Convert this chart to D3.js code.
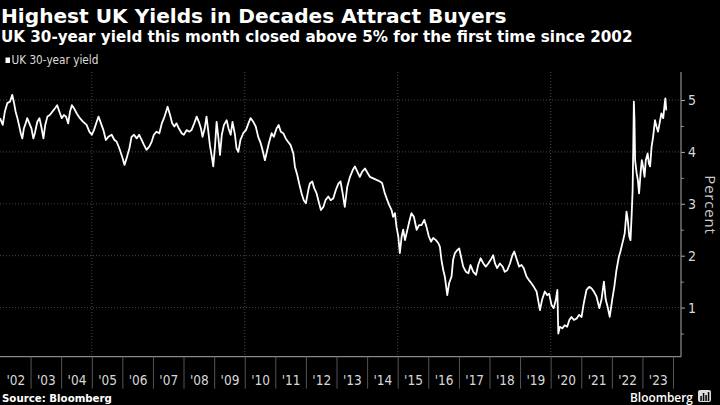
<!DOCTYPE html>
<html><head><meta charset="utf-8">
<script src="https://cdn.jsdelivr.net/npm/d3@7"></script>
<style>
html,body{margin:0;padding:0;background:#000;}
svg{display:block;}
</style></head>
<body>
<svg id="c" width="720" height="405"></svg>
<script>
const titleText = "Highest UK Yields in Decades Attract Buyers";
const subtitleText = "UK 30-year yield this month closed above 5% for the first time since 2002";
const seriesName = "UK 30-year yield";
const yAxisTitle = "Percent";
const sourceText = "Source: Bloomberg";
const brandText = "Bloomberg";
const yTicks = [1, 2, 3, 4, 5];
const yMinorTicks = [0.5, 1.5, 2.5, 3.5, 4.5];
const years = d3.range(2002, 2024);
const yearLabels = ["'02","'03","'04","'05","'06","'07","'08","'09","'10","'11","'12","'13","'14","'15","'16","'17","'18","'19","'20","'21","'22","'23"];
const gridYears = [2005, 2010, 2015, 2020];

// decimal-year dates and yields (%)
const t = [
2002.00,2002.09,2002.16,2002.24,2002.33,2002.40,2002.46,2002.51,2002.57,2002.62,2002.68,2002.73,2002.78,2002.84,2002.89,2002.96,
2003.03,2003.09,2003.14,2003.22,2003.29,2003.35,2003.42,2003.48,2003.55,2003.63,2003.72,2003.80,2003.87,2003.94,
2004.02,2004.09,2004.16,2004.23,2004.29,2004.35,2004.42,2004.51,2004.61,2004.72,2004.83,2004.92,
2005.00,2005.07,2005.16,2005.22,2005.30,2005.38,2005.46,2005.54,2005.65,2005.74,2005.81,2005.90,2005.99,
2006.07,2006.14,2006.23,2006.30,2006.38,2006.47,2006.55,2006.63,2006.71,2006.79,2006.88,2006.96,
2007.03,2007.12,2007.21,2007.29,2007.38,2007.48,2007.56,2007.63,2007.70,2007.77,2007.85,2007.94,
2008.01,2008.10,2008.19,2008.26,2008.35,2008.43,2008.50,2008.57,2008.62,2008.69,2008.75,2008.81,2008.86,2008.93,2008.97,
2009.03,2009.08,2009.14,2009.19,2009.25,2009.32,2009.41,2009.47,2009.54,2009.60,2009.68,2009.73,2009.79,2009.86,2009.95,
2010.04,2010.12,2010.19,2010.28,2010.36,2010.44,2010.52,2010.58,2010.66,2010.71,2010.79,2010.88,2010.95,
2011.04,2011.11,2011.18,2011.26,2011.34,2011.41,2011.50,2011.59,2011.64,2011.72,2011.78,2011.86,2011.93,
2012.00,2012.08,2012.13,2012.21,2012.27,2012.35,2012.43,2012.49,2012.57,2012.64,2012.73,2012.81,2012.89,2012.98,
2013.06,2013.13,2013.20,2013.27,2013.35,2013.44,2013.53,2013.60,2013.68,2013.76,2013.84,2013.93,
2014.02,2014.09,2014.20,2014.31,2014.42,2014.49,2014.58,2014.66,2014.72,2014.80,2014.85,2014.91,2014.96,
2015.02,2015.07,2015.13,2015.18,2015.24,2015.29,2015.38,2015.45,2015.53,2015.62,2015.70,2015.78,2015.87,2015.94,
2016.02,2016.09,2016.16,2016.25,2016.33,2016.38,2016.43,2016.49,2016.54,2016.62,2016.68,2016.76,2016.81,2016.87,2016.95,
2017.01,2017.07,2017.14,2017.23,2017.31,2017.38,2017.47,2017.56,2017.63,2017.71,2017.80,2017.88,2017.96,
2018.04,2018.12,2018.18,2018.25,2018.34,2018.43,2018.50,2018.58,2018.67,2018.75,2018.81,2018.88,2018.97,
2019.05,2019.12,2019.21,2019.29,2019.37,2019.45,2019.54,2019.65,2019.72,2019.81,2019.89,2019.95,
2020.03,2020.10,2020.17,2020.22,2020.25,2020.30,2020.38,2020.46,2020.54,2020.61,2020.68,2020.76,2020.85,2020.93,
2021.01,2021.08,2021.17,2021.26,2021.34,2021.41,2021.50,2021.59,2021.66,2021.74,2021.80,2021.86,2021.93,
2022.01,2022.08,2022.15,2022.23,2022.28,2022.37,2022.42,2022.48,2022.52,2022.57,2022.61,2022.65,2022.68,2022.70,2022.72,2022.74,2022.76,2022.81,2022.85,2022.89,2022.94,2022.98,
2023.02,2023.07,2023.11,2023.17,2023.21,2023.25,2023.30,2023.35,2023.41,2023.46,2023.51,2023.57,2023.62,2023.68,2023.73,2023.75,2023.78
];
const v = [
4.65,4.52,4.78,4.94,4.97,5.10,4.94,4.78,4.65,4.52,4.36,4.26,4.45,4.55,4.65,4.55,
4.45,4.26,4.36,4.58,4.65,4.49,4.26,4.52,4.68,4.71,4.78,4.84,4.90,4.78,
4.65,4.71,4.68,4.55,4.78,4.90,4.84,4.74,4.65,4.58,4.52,4.39,
4.33,4.42,4.58,4.68,4.55,4.42,4.23,4.29,4.33,4.23,4.20,4.07,3.91,
3.75,3.88,4.07,4.29,4.33,4.26,4.33,4.23,4.13,4.04,4.10,4.20,
4.33,4.39,4.36,4.55,4.68,4.87,4.71,4.55,4.49,4.55,4.45,4.36,
4.33,4.42,4.39,4.42,4.55,4.68,4.58,4.45,4.29,4.45,4.68,4.39,4.13,3.88,3.72,
4.13,4.58,4.26,3.94,4.33,4.52,4.61,4.45,4.33,4.58,4.33,4.07,4.00,4.23,4.36,
4.42,4.55,4.65,4.58,4.49,4.29,4.17,4.04,3.84,3.97,4.17,4.36,4.29,
4.45,4.52,4.39,4.36,4.26,4.20,4.13,3.97,3.72,3.55,3.39,3.20,3.07,
3.01,3.27,3.39,3.43,3.30,3.20,3.01,2.88,2.94,3.07,3.14,3.07,3.10,3.27,
3.39,3.43,3.20,2.94,3.33,3.52,3.65,3.72,3.62,3.52,3.62,3.68,
3.59,3.52,3.49,3.46,3.43,3.40,3.20,3.07,2.98,2.88,2.75,2.82,2.56,
2.37,2.05,2.37,2.50,2.30,2.43,2.66,2.82,2.75,2.50,2.59,2.59,2.69,2.56,
2.37,2.27,2.34,2.30,2.24,2.17,1.92,1.72,1.60,1.24,1.47,1.60,1.92,2.05,2.11,
2.14,1.98,1.79,1.69,1.66,1.82,1.69,1.63,1.82,1.95,1.85,1.79,1.85,
1.92,2.01,1.85,1.76,1.85,1.79,1.69,1.72,1.85,2.01,2.08,1.95,1.79,
1.82,1.76,1.60,1.53,1.47,1.40,1.31,0.95,1.15,1.31,1.24,1.27,
1.05,0.99,1.15,1.34,0.50,0.63,0.60,0.66,0.63,0.76,0.82,0.76,0.79,0.86,
0.82,1.08,1.34,1.40,1.37,1.31,1.21,0.99,1.15,1.50,1.15,1.02,0.82,
1.15,1.40,1.72,1.98,2.08,2.30,2.43,2.85,2.69,2.37,2.30,2.82,3.27,4.10,4.97,4.61,3.84,3.59,3.46,3.20,3.59,3.84,
3.72,3.52,3.84,3.97,3.78,3.72,4.10,4.29,4.61,4.49,4.39,4.58,4.74,4.65,4.94,5.03,4.80
];

const W = 720, H = 405;
const axisX = 681, plotTop = 72, plotBottom = 356.7;
const boldFont = "'DejaVu Sans', 'Noto Sans', sans-serif";
const font = "'Open Sans', 'Noto Sans', sans-serif";
const narrow = "'Liberation Sans Narrow', 'DejaVu Sans Condensed', sans-serif";

function toDate(d) {
  const yr = Math.floor(d), frac = d - yr;
  const a = Date.UTC(yr, 0, 1), b = Date.UTC(yr + 1, 0, 1);
  return new Date(a + frac * (b - a));
}
function fitWidth(sel, target) {
  const s = +sel.attr("font-size");
  const w = sel.node().getComputedTextLength();
  if (w > 0) sel.attr("font-size", s * target / w);
  return sel;
}
const data = t.map((d, i) => ({ date: toDate(d), value: v[i] }));

const svg = d3.select("#c");
svg.append("rect").attr("width", W).attr("height", H).attr("fill", "#000");

const x = d3.scaleUtc().domain([toDate(2002), toDate(2024)]).range([0, 673]);
const y = d3.scaleLinear().domain([1, 5]).range([307.6, 100]);

// title & subtitle
fitWidth(svg.append("text").attr("x", 1).attr("y", 22.5).text(titleText)
  .attr("fill", "#fff").attr("font-family", boldFont).attr("font-weight", 700).attr("font-size", 20), 506);
fitWidth(svg.append("text").attr("x", 1).attr("y", 42).text(subtitleText)
  .attr("fill", "#fff").attr("font-family", boldFont).attr("font-weight", 700).attr("font-size", 14), 632);

// legend
svg.append("rect").attr("x", 5.5).attr("y", 57.5).attr("width", 4.5).attr("height", 5.5).attr("fill", "#fff");
fitWidth(svg.append("text").attr("x", 11.5).attr("y", 64).text(seriesName)
  .attr("fill", "#ddd").attr("font-family", narrow).attr("font-size", 11), 87);

// horizontal grid
svg.append("g").selectAll("line").data(yTicks).join("line")
  .attr("x1", 0).attr("x2", axisX).attr("y1", d => y(d)).attr("y2", d => y(d))
  .attr("stroke", "#5a5a5a").attr("stroke-width", 0.8).attr("stroke-dasharray", "1,2");
// vertical grid
svg.append("g").selectAll("line").data(gridYears).join("line")
  .attr("x1", d => x(toDate(d))).attr("x2", d => x(toDate(d)))
  .attr("y1", plotTop).attr("y2", plotBottom)
  .attr("stroke", "#5a5a5a").attr("stroke-width", 0.8).attr("stroke-dasharray", "1,2");

// right axis
const yAxis = svg.append("g").attr("transform", `translate(${axisX},0)`)
  .call(d3.axisRight(y).tickValues(yTicks).tickSize(4).tickPadding(3).tickFormat(d3.format("d")));
yAxis.select(".domain").remove();
yAxis.selectAll("line").attr("stroke", "#aaa");
yAxis.selectAll("text").attr("fill", "#d8d8d8").attr("font-family", narrow).attr("font-size", 14);
const yMinor = svg.append("g").attr("transform", `translate(${axisX},0)`)
  .call(d3.axisRight(y).tickValues(yMinorTicks).tickSize(3).tickFormat(""));
yMinor.select(".domain").remove();
yMinor.selectAll("line").attr("stroke", "#888");
svg.append("line").attr("x1", axisX).attr("x2", axisX).attr("y1", plotTop).attr("y2", plotBottom)
  .attr("stroke", "#aaa").attr("stroke-width", 1);
svg.append("text").attr("transform", `translate(705,205) rotate(90)`)
  .attr("text-anchor", "middle").attr("letter-spacing", 0.8).text(yAxisTitle)
  .attr("fill", "#ccc").attr("font-family", font).attr("font-size", 15);

// bottom axis
svg.append("line").attr("x1", 0).attr("x2", axisX).attr("y1", plotBottom).attr("y2", plotBottom)
  .attr("stroke", "#aaa").attr("stroke-width", 1);
const xTickG = svg.append("g").attr("transform", `translate(0,${plotBottom})`)
  .call(d3.axisBottom(x).tickValues(d3.range(2003, 2025).map(toDate)).tickSize(32).tickFormat(""));
xTickG.select(".domain").remove();
xTickG.selectAll("line").attr("stroke", "#555");
const xLab = svg.append("g").attr("transform", `translate(0,${plotBottom})`)
  .call(d3.axisBottom(x).tickValues(years.map(d => toDate(d + 0.5))).tickSize(0).tickPadding(19)
    .tickFormat((d, i) => yearLabels[i]));
xLab.select(".domain").remove();
xLab.selectAll("text").attr("fill", "#d8d8d8").attr("font-family", narrow).attr("font-size", 13.5);

// line
svg.append("path").datum(data)
  .attr("d", d3.line().x(d => x(d.date)).y(d => y(d.value)))
  .attr("fill", "none").attr("stroke", "#fff").attr("stroke-width", 1.8).attr("stroke-linejoin", "round");

// footer
fitWidth(svg.append("text").attr("x", 2).attr("y", 402).text(sourceText)
  .attr("fill", "#fff").attr("font-family", boldFont).attr("font-weight", 700).attr("font-size", 10), 110);
fitWidth(svg.append("text").attr("x", 630).attr("y", 402).text(brandText)
  .attr("fill", "#fff").attr("font-family", font).attr("font-weight", 600).attr("font-size", 12.5), 63);
const icon = svg.append("g").attr("transform", "translate(698,390)");
icon.append("rect").attr("width", 13).attr("height", 12).attr("rx", 2).attr("fill", "#ddd");
icon.selectAll("rect.b").data([5, 8, 6, 9]).join("rect").attr("class", "b")
  .attr("x", (d, i) => 2.3 + i * 2.5).attr("y", d => 11 - d).attr("width", 1.5).attr("height", d => d).attr("fill", "#000");
</script>
</body></html>
